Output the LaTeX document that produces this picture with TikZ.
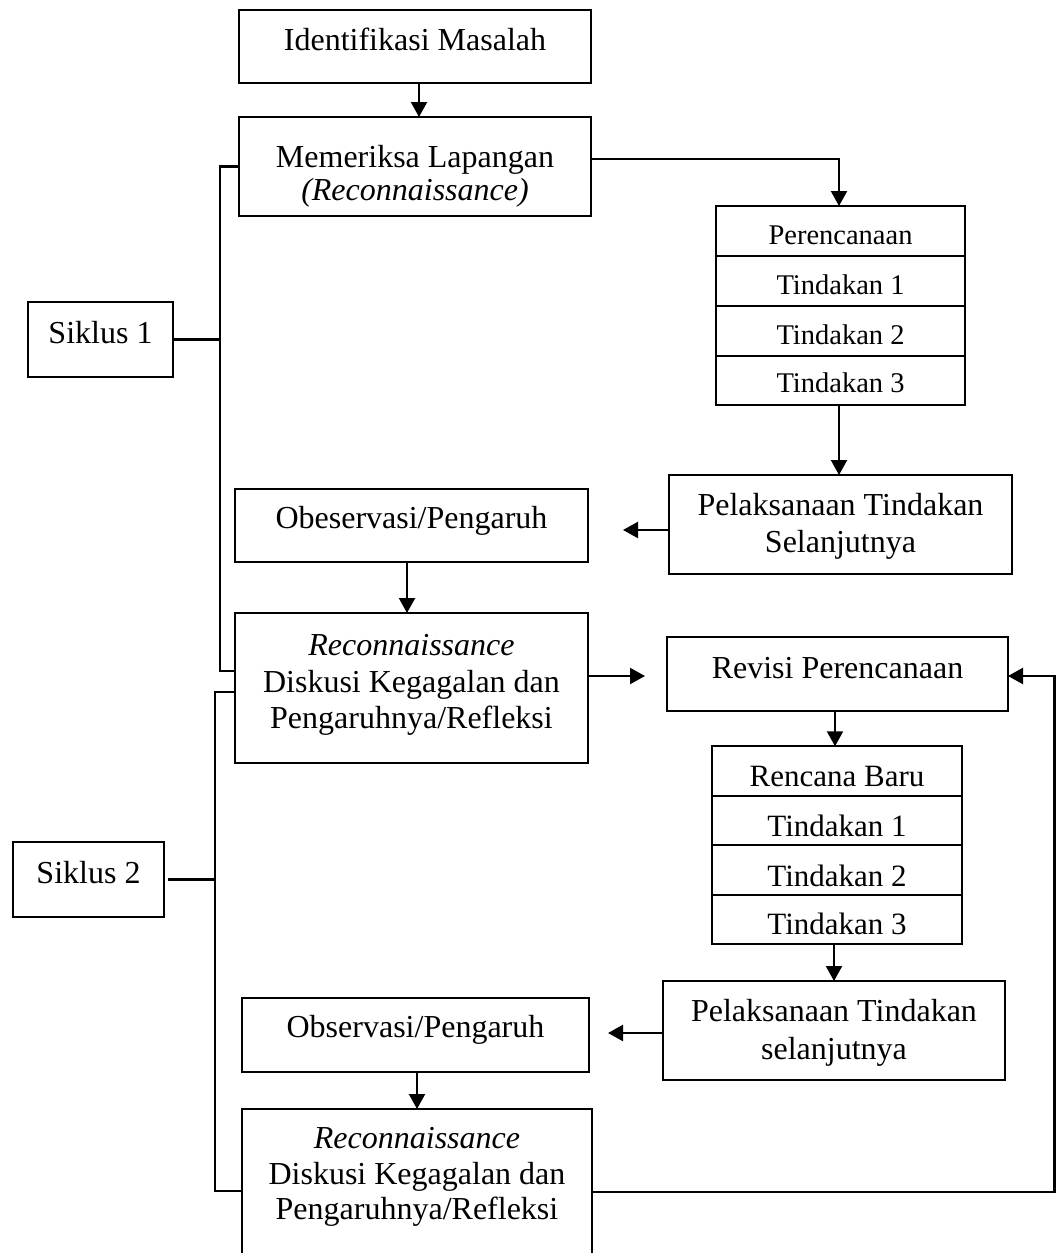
\documentclass[tikz,border=0pt]{standalone}
\usepackage{fontspec}
\setmainfont{Liberation Serif}
\usetikzlibrary{arrows.meta}
\newcommand\fsM{\fontsize{32}{36}\selectfont}
\newcommand\fsS{\fontsize{28.5}{32}\selectfont}
\newcommand\fsR{\fontsize{31}{34}\selectfont}
\begin{document}
\begin{tikzpicture}[x=1pt,y=-1pt,
  box/.style={draw, line width=2.2pt, inner sep=0pt, outer sep=0pt, rectangle},
  txt/.style={anchor=base, inner sep=0pt, outer sep=0pt, font=\fsM},
  stxt/.style={txt, font=\fsS},
  rtxt/.style={txt, font=\fsR},
  conn/.style={line width=2.2pt},
  arr/.style={conn, -{Triangle[length=15pt,width=16pt]}}]
\useasboundingbox (0,0) rectangle (1056,1253);
\clip (0,0) rectangle (1056,1253);

% boxes
\node[box, minimum width=352pt, minimum height=73pt] (idm) at (415,46.5) {};
\node[box, minimum width=352pt, minimum height=99pt] (mem) at (415,166.5) {};
\node[box, minimum width=249pt, minimum height=50pt] (st1a) at (840.5,231) {};
\node[box, minimum width=249pt, minimum height=50pt] (st1b) at (840.5,281) {};
\node[box, minimum width=249pt, minimum height=50pt] (st1c) at (840.5,331) {};
\node[box, minimum width=249pt, minimum height=49pt] (st1d) at (840.5,380.5) {};
\node[box, minimum width=145pt, minimum height=75pt] (sik1) at (100.5,339.5) {};
\node[box, minimum width=343pt, minimum height=99pt] (pel1) at (840.5,524.5) {};
\node[box, minimum width=353pt, minimum height=73pt] (obs1) at (411.5,525.5) {};
\node[box, minimum width=353pt, minimum height=150pt] (rec1) at (411.5,688) {};
\node[box, minimum width=341pt, minimum height=74pt] (rev) at (837.5,674) {};
\node[box, minimum width=250pt, minimum height=49.5pt] (st2a) at (837,771) {};
\node[box, minimum width=250pt, minimum height=49.5pt] (st2b) at (837,820.5) {};
\node[box, minimum width=250pt, minimum height=49.5pt] (st2c) at (837,870) {};
\node[box, minimum width=250pt, minimum height=49.5pt] (st2d) at (837,919.5) {};
\node[box, minimum width=151pt, minimum height=75pt] (sik2) at (88.5,879.5) {};
\node[box, minimum width=342pt, minimum height=99pt] (pel2) at (834,1030.5) {};
\node[box, minimum width=347pt, minimum height=74pt] (obs2) at (415.5,1035) {};
\node[box, minimum width=350pt, minimum height=161pt] (rec2) at (417,1189.5) {};

% texts
\node[txt] (t-idm) at (415,50) {Identifikasi Masalah};
\node[txt] (t-mem1) at (415,167) {Memeriksa Lapangan};
\node[txt] (t-mem2) at (415,200) {\itshape (Reconnaissance)};
\node[stxt] (t-st1a) at (840.5,244) {Perencanaan};
\node[stxt] (t-st1b) at (840.5,294) {Tindakan 1};
\node[stxt] (t-st1c) at (840.5,344) {Tindakan 2};
\node[stxt] (t-st1d) at (840.5,392) {Tindakan 3};
\node[txt] (t-sik1) at (100.5,343) {Siklus 1};
\node[txt] (t-pel1a) at (840.5,515) {Pelaksanaan Tindakan};
\node[txt] (t-pel1b) at (840.5,552) {Selanjutnya};
\node[txt] (t-obs1) at (411.5,528) {Obeservasi/Pengaruh};
\node[txt] (t-rec1a) at (411.5,655) {\itshape Reconnaissance};
\node[txt] (t-rec1b) at (411.5,692) {Diskusi Kegagalan dan};
\node[txt] (t-rec1c) at (411.5,728) {Pengaruhnya/Refleksi};
\node[txt] (t-rev) at (837.5,678) {Revisi Perencanaan};
\node[rtxt] (t-st2a) at (837,786) {Rencana Baru};
\node[rtxt] (t-st2b) at (837,836) {Tindakan 1};
\node[rtxt] (t-st2c) at (837,886) {Tindakan 2};
\node[rtxt] (t-st2d) at (837,934.5) {Tindakan 3};
\node[txt] (t-sik2) at (88.5,883) {Siklus 2};
\node[txt] (t-pel2a) at (834,1021) {Pelaksanaan Tindakan};
\node[txt] (t-pel2b) at (834,1059) {selanjutnya};
\node[txt] (t-obs2) at (415.5,1037) {Observasi/Pengaruh};
\node[txt] (t-rec2a) at (417,1148) {\itshape Reconnaissance};
\node[txt] (t-rec2b) at (417,1184) {Diskusi Kegagalan dan};
\node[txt] (t-rec2c) at (417,1219) {Pengaruhnya/Refleksi};

% free ends and corners
\coordinate (c1) at (623,530);
\coordinate (c2) at (645,676);
\coordinate (c3) at (608,1033);
\coordinate (fb) at (1054.5,676);
\coordinate (b1t) at (220,166.5);
\coordinate (b1b) at (220,671);
\coordinate (b2t) at (215,692);
\coordinate (b2b) at (215,1191);

% connectors
\draw[arr] ([xshift=4pt]idm.south) -- ([xshift=4pt]mem.north);
\draw[arr] ([yshift=7.5pt]mem.east) -| ([xshift=-1.5pt]st1a.north);
\draw[arr] ([xshift=-1.5pt]st1d.south) -- ([xshift=-1.5pt]st1d.south |- pel1.north);
\draw[arr] ([yshift=-5.5pt]pel1.west) -- (c1);
\draw[arr] ([xshift=-4.5pt]obs1.south) -- ([xshift=-4.5pt]rec1.north);
\draw[arr] ([yshift=12pt]rec1.east) -- (c2);
\draw[arr] ([xshift=-2.5pt]rev.south) -- ([xshift=-2.5pt]rev.south |- st2a.north);
\draw[arr] ([xshift=-3pt]st2d.south) -- ([xshift=-3pt]st2d.south |- pel2.north);
\draw[arr] ([yshift=-2.5pt]pel2.west) -- (c3);
\draw[arr] ([xshift=1.5pt]obs2.south) -- ([xshift=1.5pt]obs2.south |- rec2.north);
\draw[arr] ([yshift=-2.5pt]rec2.east) -| (fb) -- ([yshift=-2pt]rev.east);

% brackets
\draw[conn] (mem.west) -- (b1t) -- (b1b) -- (b1b -| rec1.west);
\draw[conn] (sik1.east) -- (sik1.east -| b1t);
\draw[conn] (b2t -| rec1.west) -- (b2t) -- (b2b) -- (b2b -| rec2.west);
\draw[conn] ([xshift=4pt]sik2.east) -- (sik2.east -| b2t);
\end{tikzpicture}
\end{document}
